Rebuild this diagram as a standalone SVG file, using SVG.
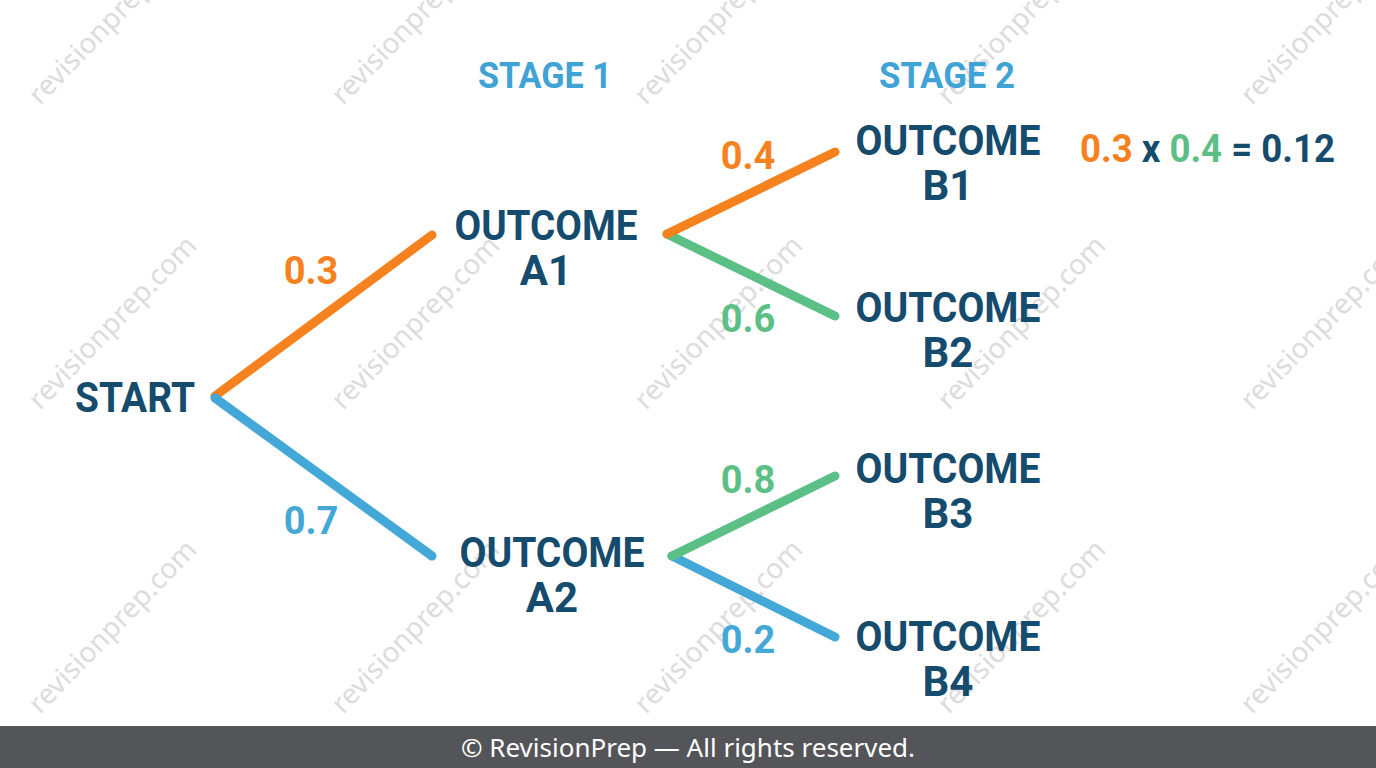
<svg xmlns="http://www.w3.org/2000/svg" width="1376" height="768" viewBox="0 0 1376 768">
<defs>
<style>
.wm{font-family:"Noto Sans","Open Sans",sans-serif;font-size:28px;fill:#dcdcde;}
.node{font-family:Roboto,"Liberation Sans",sans-serif;font-weight:700;font-size:42px;fill:#154c6e;text-anchor:middle;}
.stage{font-family:Roboto,"Liberation Sans",sans-serif;font-weight:700;font-size:36px;fill:#3fa3d6;text-anchor:middle;}
.prob{font-family:Roboto,"Liberation Sans",sans-serif;font-weight:700;font-size:38px;text-anchor:middle;}
.eq{font-family:Roboto,"Liberation Sans",sans-serif;font-weight:700;font-size:38px;fill:#154c6e;}
.or{fill:#f5821f;} .gr{fill:#5bbf86;} .bl{fill:#43a8d8;}
.edge{fill:none;stroke-width:9;stroke-linecap:round;}
.foot{font-family:"Noto Sans","Open Sans",sans-serif;font-size:26px;fill:#ffffff;text-anchor:middle;}
</style>
<text id="wmt" class="wm" transform="rotate(-46)">revisionprep.com</text>
</defs>
<rect width="1376" height="768" fill="#ffffff"/>
<g id="watermarks">
<use href="#wmt" transform="translate(40,106)"/>
<use href="#wmt" transform="translate(343,106)"/>
<use href="#wmt" transform="translate(646,106)"/>
<use href="#wmt" transform="translate(949,106)"/>
<use href="#wmt" transform="translate(1252,106)"/>
<use href="#wmt" transform="translate(40,411)"/>
<use href="#wmt" transform="translate(343,411)"/>
<use href="#wmt" transform="translate(646,411)"/>
<use href="#wmt" transform="translate(949,411)"/>
<use href="#wmt" transform="translate(1252,411)"/>
<use href="#wmt" transform="translate(40,715)"/>
<use href="#wmt" transform="translate(343,715)"/>
<use href="#wmt" transform="translate(646,715)"/>
<use href="#wmt" transform="translate(949,715)"/>
<use href="#wmt" transform="translate(1252,715)"/>
</g>
<g id="connectors">
<line class="edge" stroke="#f5821f" x1="215" y1="396" x2="432" y2="235"/>
<line class="edge" stroke="#43a8d8" x1="215" y1="398" x2="432" y2="556"/>
<line class="edge" stroke="#5bbf86" x1="667" y1="234" x2="835" y2="316"/>
<line class="edge" stroke="#f5821f" x1="667" y1="234" x2="835" y2="152"/>
<line class="edge" stroke="#43a8d8" x1="672" y1="556" x2="835" y2="637"/>
<line class="edge" stroke="#5bbf86" x1="672" y1="556" x2="835" y2="476"/>
</g>
<g id="labels">
<text class="prob or" x="311" y="284">0.3</text>
<text class="prob bl" x="311" y="534">0.7</text>
<text class="prob or" x="748" y="169">0.4</text>
<text class="prob gr" x="748" y="332">0.6</text>
<text class="prob gr" x="748" y="493">0.8</text>
<text class="prob bl" x="748" y="653">0.2</text>
</g>
<g id="stage1"><text class="stage" x="545" y="88" textLength="134" lengthAdjust="spacingAndGlyphs">STAGE 1</text></g>
<g id="stage2"><text class="stage" x="947" y="88" textLength="136" lengthAdjust="spacingAndGlyphs">STAGE 2</text></g>
<g id="start"><text class="node" x="135" y="412" textLength="120" lengthAdjust="spacingAndGlyphs">START</text></g>
<g id="outcomeA1"><text class="node" x="546" y="240" textLength="183" lengthAdjust="spacingAndGlyphs">OUTCOME</text><text class="node" x="546" y="285">A1</text></g>
<g id="outcomeA2"><text class="node" x="552" y="567" textLength="185" lengthAdjust="spacingAndGlyphs">OUTCOME</text><text class="node" x="552" y="612">A2</text></g>
<g id="outcomeB1"><text class="node" x="948" y="155" textLength="185" lengthAdjust="spacingAndGlyphs">OUTCOME</text><text class="node" x="948" y="200">B1</text></g>
<g id="outcomeB2"><text class="node" x="948" y="322" textLength="185" lengthAdjust="spacingAndGlyphs">OUTCOME</text><text class="node" x="948" y="367">B2</text></g>
<g id="outcomeB3"><text class="node" x="948" y="483" textLength="185" lengthAdjust="spacingAndGlyphs">OUTCOME</text><text class="node" x="948" y="528">B3</text></g>
<g id="outcomeB4"><text class="node" x="948" y="651" textLength="185" lengthAdjust="spacingAndGlyphs">OUTCOME</text><text class="node" x="948" y="696">B4</text></g>
<g id="equation"><text class="eq" x="1080" y="162" textLength="255" lengthAdjust="spacingAndGlyphs"><tspan class="or">0.3</tspan> x <tspan class="gr">0.4</tspan> = 0.12</text></g>
<g id="footer">
<rect x="0" y="726" width="1376" height="42" fill="#545559"/>
<text class="foot" x="688" y="757">© RevisionPrep — All rights reserved.</text>
</g>
</svg>
